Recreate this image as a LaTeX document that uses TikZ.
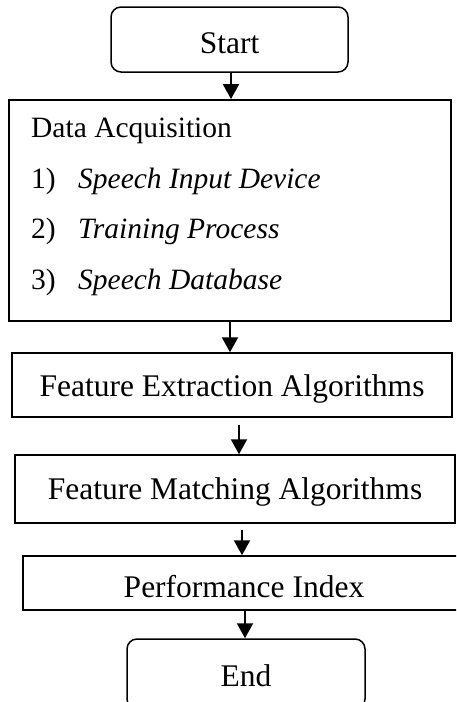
\documentclass[tikz,border=0pt]{standalone}
\usepackage{fontspec}
\setmainfont{Liberation Serif}
\usetikzlibrary{arrows.meta}
\tikzset{
  stepbox/.style={draw, line width=1.5pt, rectangle, inner sep=0pt},
  termbox/.style={draw, line width=1.5pt, rectangle, rounded corners=10pt, inner sep=0pt},
  boxtext/.style={font=\fontsize{31.5}{36}\selectfont, inner sep=0pt},
  itemtext/.style={font=\fontsize{29.5}{34}\selectfont, inner sep=0pt, anchor=base west},
  flow/.style={-{Triangle[width=16pt,length=15pt]}, line width=2.2pt},
}
\begin{document}
\begin{tikzpicture}[x=1pt,y=-1pt]
\useasboundingbox (0,0) rectangle (456,702);
\clip (0,0) rectangle (456,702);

% terminals and process boxes
\node[termbox, minimum width=237pt, minimum height=65pt] (start) at (229.5,39.5) {};
\node[boxtext] (starttxt) at (229.5,43) {Start};

\node[stepbox, line width=1.9pt, minimum width=442pt, minimum height=221pt] (data) at (230,210.5) {};
\node[itemtext] (dtitle) at (31,137) {Data Acquisition};
\node[itemtext] (n1) at (31,188) {1)};
\node[itemtext] (i1) at (78,188) {\itshape Speech Input Device};
\node[itemtext] (n2) at (31,238) {2)};
\node[itemtext] (i2) at (78,238) {\itshape Training Process};
\node[itemtext] (n3) at (31,289) {3)};
\node[itemtext] (i3) at (78,289) {\itshape Speech Database};

\node[stepbox, minimum width=440pt, minimum height=64pt] (fe) at (232,385) {};
\node[boxtext] (fetxt) at (232,389) {Feature Extraction Algorithms};

\node[stepbox, minimum width=440pt, minimum height=68pt] (fm) at (235,489) {};
\node[boxtext] (fmtxt) at (235,492) {Feature Matching Algorithms};

\node[stepbox, minimum width=450pt, minimum height=54pt] (pi) at (248,583) {};
\node[boxtext] (pitxt) at (244,587) {Performance Index};

\node[termbox, minimum width=238pt, minimum height=70pt] (end) at (246,674) {};
\node[boxtext] (endtxt) at (246,676) {End};

% connectors
\coordinate (c1) at (231,0);
\coordinate (c2) at (230,0);
\coordinate (c3) at (239,0);
\coordinate (c4) at (242,0);
\coordinate (c5) at (245,0);
\draw[flow] (start.south -| c1) -- (data.north -| c1);
\draw[flow] (data.south -| c2) -- (fe.north -| c2);
\draw[flow, shorten <=7pt] (fe.south -| c3) -- (fm.north -| c3);
\draw[flow, shorten <=6pt] (fm.south -| c4) -- (pi.north -| c4);
\draw[flow] (pi.south -| c5) -- (end.north -| c5);
\end{tikzpicture}
\end{document}
